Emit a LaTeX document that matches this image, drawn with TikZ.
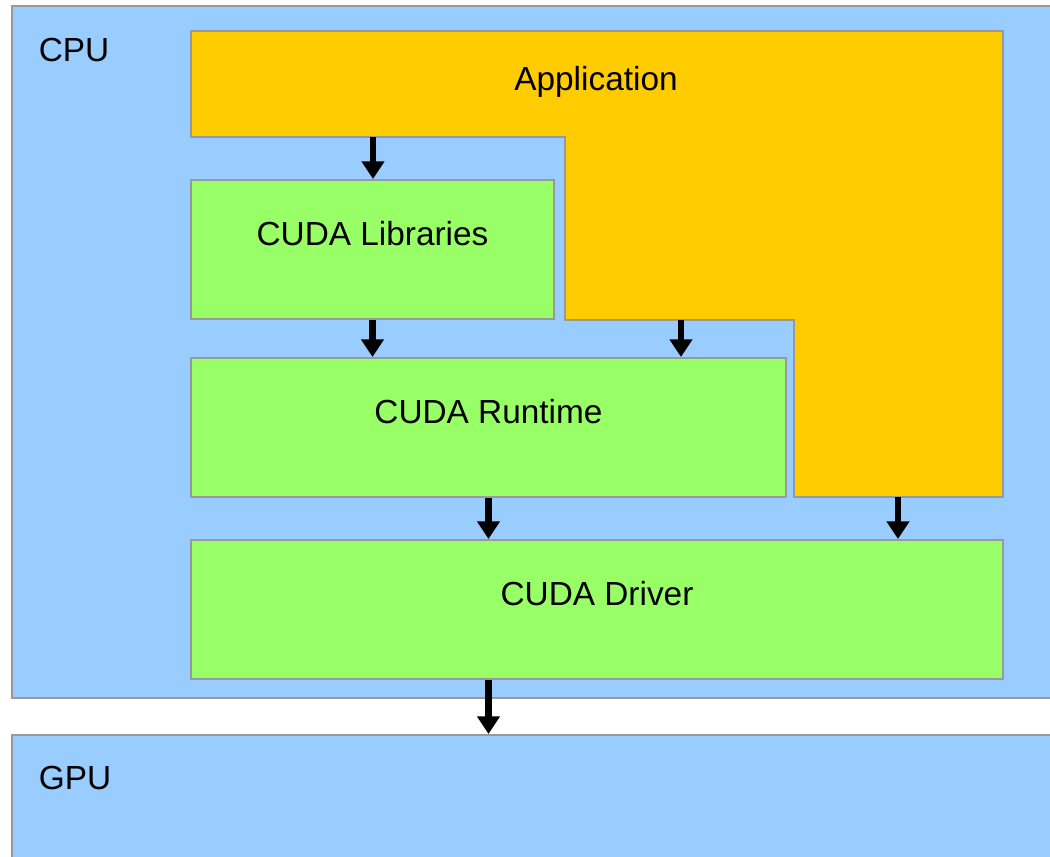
\documentclass[tikz,border=0pt]{standalone}
\usepackage{fontspec}
\setmainfont{Liberation Sans}
\usepackage{xcolor}
\usepackage{tikz}
\usetikzlibrary{arrows.meta}

\definecolor{hostblue}{HTML}{99CCFF}
\definecolor{appyellow}{HTML}{FFCC00}
\definecolor{layergreen}{HTML}{99FF66}
\definecolor{edgegray}{HTML}{999999}

\tikzset{
  frame/.style={draw=edgegray, line width=1.2pt, fill=hostblue, inner sep=0pt},
  layer/.style={draw=edgegray, line width=1.2pt, fill=layergreen, inner sep=0pt,
    minimum height=2.78cm, text height=0.4cm, text depth=0.56cm, font=\fontsize{19}{22}\selectfont},
  tag/.style={inner sep=0pt, font=\fontsize{19}{22}\selectfont},
  call/.style={-{Triangle[width=12.5pt,length=10pt]}, line width=3.6pt},
}

\begin{document}
\begin{tikzpicture}[x=0.02cm, y=-0.02cm]
      \clip (0,0) rectangle (1050,857);
      \node[frame, minimum width=20.96cm, minimum height=13.84cm] (cpu) at (536,352) {};
      \node[frame, minimum width=20.96cm, minimum height=3.3cm] (gpu) at (536,817.5) {};
      \node[tag] (cpulabel) at (74,50) {CPU};
      \node[tag] (gpulabel) at (75,778) {GPU};
      \draw[draw=edgegray, line width=1.2pt, fill=appyellow] (191,31) -- (1003,31) -- (1003,497) -- (794,497)
        -- (794,320) -- (565,320) -- (565,137) -- (191,137) -- cycle;
      \node[tag] (app) at (596,82) {Application};
      \coordinate (app-lib) at (373,137);
      \coordinate (app-rt) at (681,320);
      \coordinate (app-drv) at (898,497);
      \node[layer, minimum width=7.26cm] (lib) at (372.5,249.5) {CUDA Libraries};
      \node[layer, minimum width=11.9cm] (rt) at (488.5,427.5) {CUDA Runtime};
      \node[layer, minimum width=16.24cm] (drv) at (597,609.5) {CUDA Driver};
      \draw[call] (app-lib) -- (app-lib |- lib.north);
      \draw[call] (lib.south) -- (lib.south |- rt.north);
      \draw[call] (app-rt) -- (app-rt |- rt.north);
      \draw[call] (rt.south) -- (rt.south |- drv.north);
      \draw[call] (app-drv) -- (app-drv |- drv.north);
      \draw[call] (drv.south -| rt.south) -- (rt.south |- gpu.north);
    \end{tikzpicture}
\end{document}
